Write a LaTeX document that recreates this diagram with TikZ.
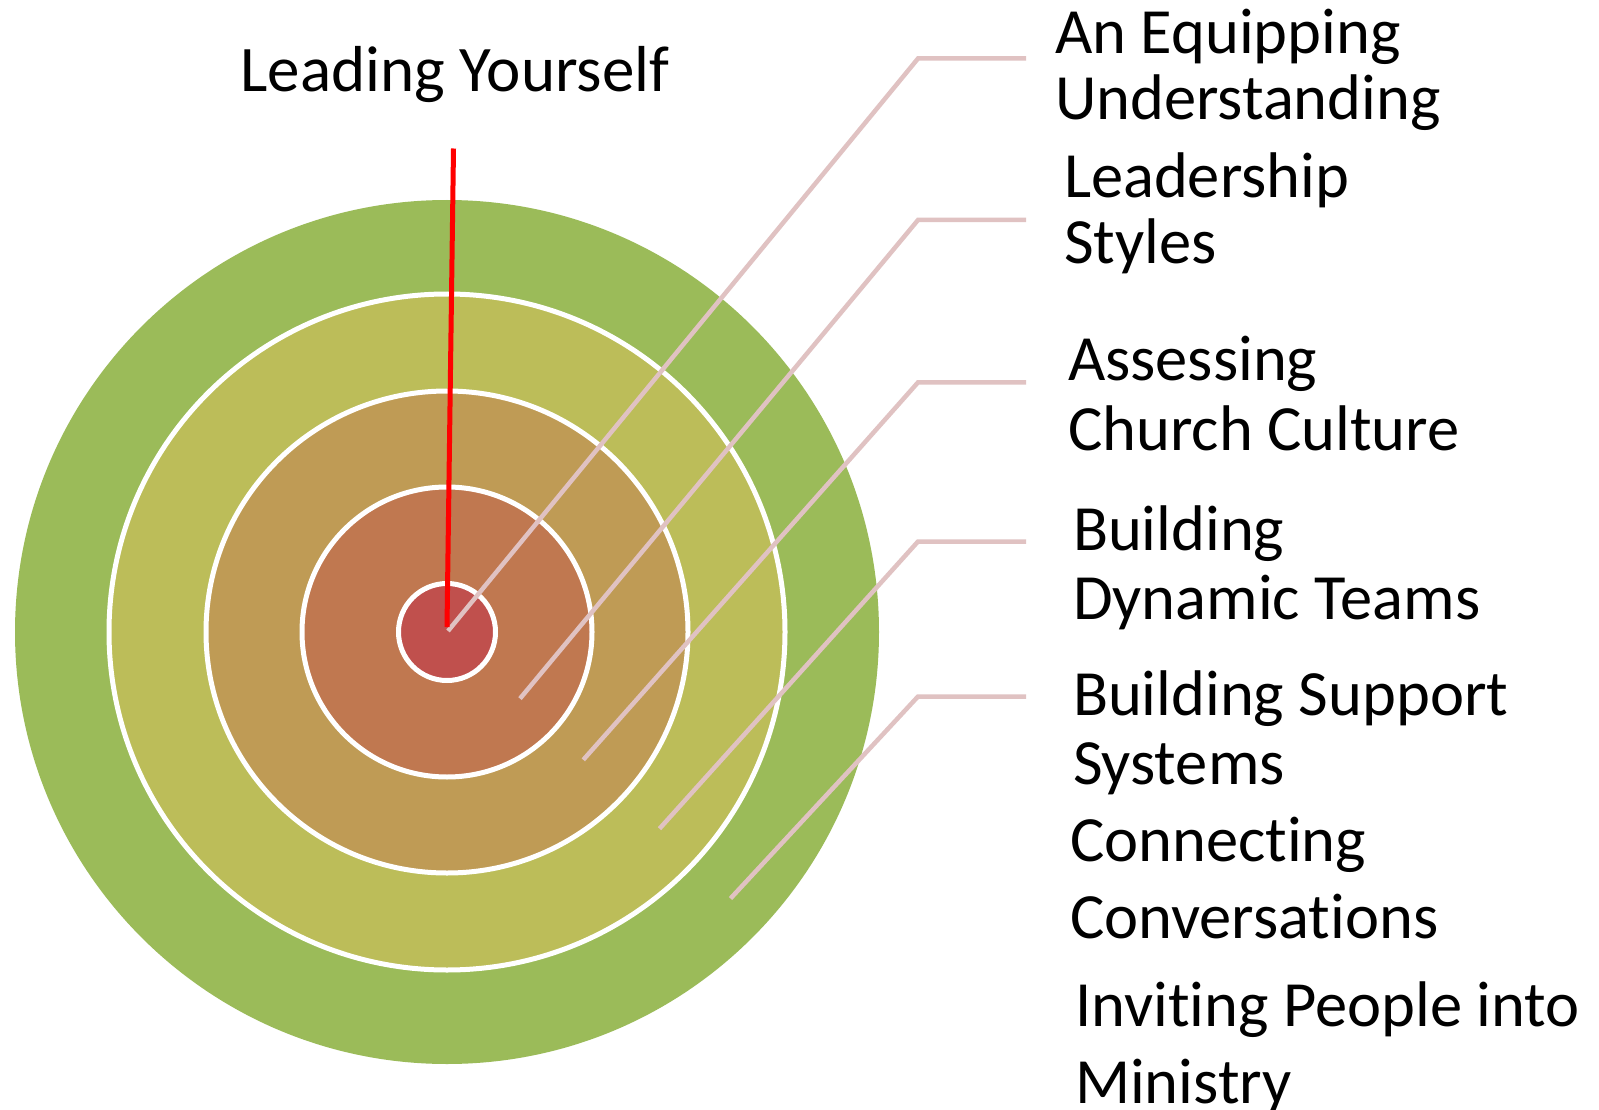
\documentclass[tikz,border=0pt]{standalone}
\usepackage{fontspec}
\setmainfont[Ligatures=NoCommon]{Carlito}
\definecolor{ringA}{RGB}{155,187,89}
\definecolor{ringB}{RGB}{188,189,89}
\definecolor{ringC}{RGB}{191,155,85}
\definecolor{ringD}{RGB}{192,120,80}
\definecolor{ringE}{RGB}{192,80,77}
\definecolor{leader}{RGB}{224,194,194}
\begin{document}
\begin{tikzpicture}[x=1pt,y=-1pt,
  ring/.style={circle, inner sep=0pt, outer sep=0pt, draw=white, line width=5pt},
  outerring/.style={circle, inner sep=0pt, outer sep=0pt},
  leaderline/.style={draw=leader, line width=4.5pt},
  lbl/.style={font=\fontsize{64.5}{#1}\selectfont, align=left, anchor=base west, inner sep=0pt, outer sep=0pt},
  title/.style={font=\fontsize{65}{70}\selectfont, anchor=base, inner sep=0pt}]
\useasboundingbox[fill=white] (0,0) rectangle (1599,1110);
\coordinate (c) at (447,632);
\node[outerring, fill=ringA, minimum size=864pt] (r1) at (c) {};
\node[ring, fill=ringB, minimum size=676pt] (r2) at (c) {};
\node[ring, fill=ringC, minimum size=482pt] (r3) at (c) {};
\node[ring, fill=ringD, minimum size=290pt] (r4) at (c) {};
\node[ring, fill=ringE, minimum size=97pt] (r5) at (c) {};
% leader line coordinates
\coordinate (s1) at (448,631);   \coordinate (k1) at (918,58.5);  \coordinate (e1) at (1026,58.5);
\coordinate (s2) at (520,698.6); \coordinate (k2) at (918,220);   \coordinate (e2) at (1026,220);
\coordinate (s3) at (583.3,759.8); \coordinate (k3) at (918,382.4); \coordinate (e3) at (1026,382.4);
\coordinate (s4) at (659.5,828.7); \coordinate (k4) at (918,541.5); \coordinate (e4) at (1026,541.5);
\coordinate (s5) at (730.5,898.5); \coordinate (k5) at (918,696.5); \coordinate (e5) at (1026,696.5);
\foreach \i in {1,...,5} { \draw[leaderline] (s\i) -- (k\i) -- (e\i); }
% title and red pointer
\node[title] (t) at (455,91.7) {Leading Yourself};
\coordinate (rtop) at (453.5,148.5);
\coordinate (rbot) at (447,627);
\draw[red, line width=5pt] (rtop) -- (rbot);
% labels (anchored at the baseline of the last line)
\node[lbl=66] (l1) at (1055,119.3) {An Equipping\\Understanding};
\node[lbl=66] (l2) at (1064,263.3) {Leadership\\Styles};
\node[lbl=70] (l3) at (1068,450) {Assessing\\Church Culture};
\node[lbl=69] (l4) at (1073,619.3) {Building\\Dynamic Teams};
\node[lbl=69] (l5) at (1073,784) {Building Support\\Systems};
\node[lbl=76.5] (l6) at (1070,938.3) {Connecting\\Conversations};
\node[lbl=76.5] (l7) at (1075,1103.3) {Inviting People into\\Ministry};
\end{tikzpicture}
\end{document}
